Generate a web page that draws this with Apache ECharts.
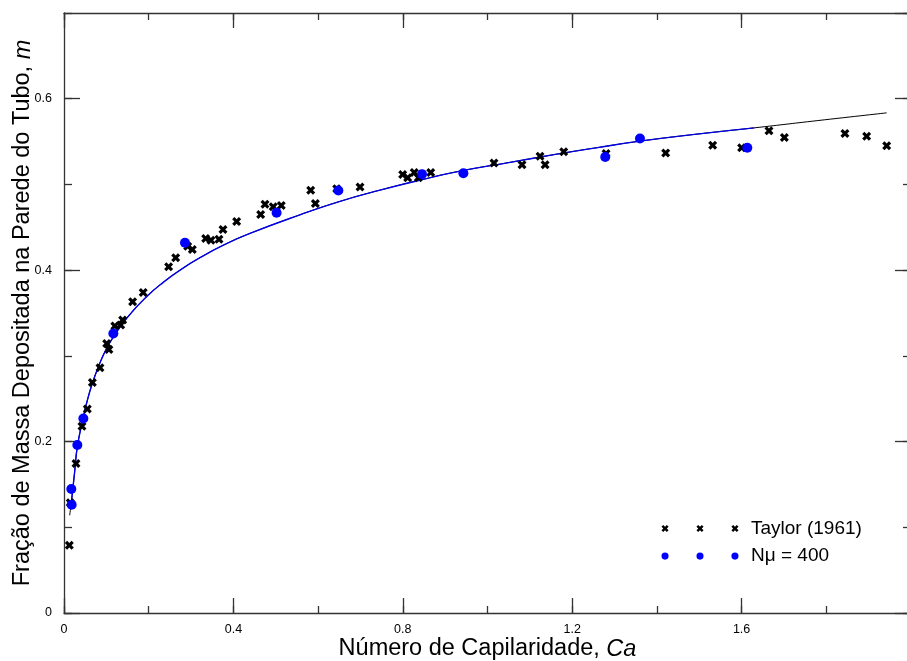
<!DOCTYPE html>
<html>
<head>
<meta charset="utf-8">
<script src="https://cdn.jsdelivr.net/npm/echarts@6/dist/echarts.min.js"></script>
<style>
html,body{margin:0;padding:0;background:#fff;}
#chart{width:907px;height:661px;}
</style>
</head>
<body>
<div id="chart"></div>
<script>
// Taylor (1961) experimental points
const taylorCa = [0.0126,0.0149,0.0283,0.0425,0.055,0.067,0.085,0.1008,0.106,0.120,0.1338,0.1385,0.162,0.187,0.247,0.2637,0.292,0.303,0.3345,0.347,0.366,0.3754,0.4077,0.4644,0.4746,0.494,0.513,0.5825,0.5935,0.644,0.699,0.7997,0.8115,0.827,0.8367,0.866,1.0153,1.0815,1.124,1.136,1.18,1.28,1.4207,1.5317,1.600,1.6647,1.701,1.844,1.8953,1.9426];
const taylorM  = [0.079,0.1286,0.1745,0.218,0.238,0.269,0.286,0.3145,0.3075,0.3347,0.336,0.3417,0.363,0.374,0.404,0.4144,0.428,0.424,0.437,0.435,0.436,0.4474,0.4567,0.465,0.477,0.474,0.4755,0.4933,0.4778,0.495,0.497,0.5116,0.5077,0.514,0.5077,0.514,0.525,0.523,0.533,0.523,0.538,0.536,0.5368,0.5458,0.5427,0.5625,0.5547,0.5594,0.5563,0.545];
// Simulation points, N_mu = 400
const nmuCa = [0.0173,0.0181,0.0315,0.0457,0.1165,0.2857,0.502,0.6478,0.8453,0.943,1.278,1.36,1.6135];
const nmuM  = [0.1446,0.1263,0.196,0.227,0.326,0.432,0.467,0.493,0.512,0.513,0.532,0.5536,0.5427];
// Fitted curve
const lineCa = [0.0134,0.018,0.025,0.0315,0.045,0.0535,0.067,0.085,0.1,0.1165,0.15,0.195,0.235,0.274,0.321,0.38,0.439,0.557,0.65,0.746,0.84,0.935,1.05,1.16,1.26,1.36,1.5,1.63,1.78,1.9426];
const lineM  = [0.114,0.132,0.164,0.194,0.227,0.245,0.268,0.292,0.308,0.322,0.345,0.369,0.386,0.400,0.4145,0.430,0.4428,0.4645,0.480,0.4933,0.505,0.5155,0.5255,0.535,0.543,0.5505,0.559,0.566,0.5745,0.5835];
const blueLineRange = [0.018, 1.63];

const xMajor = 0.4, xMinor = 0.2, yMajor = 0.2, yMinor = 0.1;

const FONT = "'Liberation Sans', Arial, Helvetica, sans-serif";
const AX = '#333';

function xAt(o, d){
  const p = [[0,d],[d,0],[3.5,3.5-d],[7-d,0],[7,d],[3.5+d,3.5],[7,7-d],[7-d,7],[3.5,3.5+d],[d,7],[0,7-d],[3.5-d,3.5]];
  return p.map((q,i)=>(i?'L':'M')+(q[0]+o)+','+q[1]).join('')+'Z';
}
function dotAt(o){return 'M'+o+',3.5A3.5,3.5 0 1 1 '+(o+7)+',3.5A3.5,3.5 0 1 1 '+o+',3.5Z';}
const xPath = 'path://' + xAt(0, 1.75);
const legendX = 'path://' + xAt(0, 1.7) + xAt(34.5, 1.7) + xAt(69, 1.7);
const legendDot = 'path://' + dotAt(0) + dotAt(34.5) + dotAt(69);

function fmt(v){ return v === 0 ? '0' : String(+v.toFixed(1)); }

function xAx(pos, interval, len, labels, line){
  return {
    type:'value', position:pos, min:0, max:2, interval:interval,
    axisLine:{show:line, onZero:false, lineStyle:{color:AX, width:1.3}},
    axisTick:{show:true, inside:true, length:len, lineStyle:{color:AX, width:1.3}},
    axisLabel:{show:labels, margin:10, fontSize:12.5, color:'#000', fontFamily:FONT, formatter:fmt, showMaxLabel:false},
    splitLine:{show:false}
  };
}
function yAx(pos, interval, len, labels, line){
  return {
    type:'value', position:pos, min:0, max:0.7, interval:interval,
    axisLine:{show:line, onZero:false, lineStyle:{color:AX, width:1.3}},
    axisTick:{show:true, inside:true, length:len, lineStyle:{color:AX, width:1.3}},
    axisLabel:{show:labels, margin:12, fontSize:12.5, color:'#000', fontFamily:FONT, formatter:fmt, showMaxLabel:false},
    splitLine:{show:false}
  };
}

const xMain = xAx('bottom', xMajor, 15, true, true);
xMain.name = 'Número de Capilaridade, {i|Ca}';
xMain.nameLocation = 'middle';
xMain.nameGap = 24;
xMain.nameMoveOverlap = false;
xMain.nameTextStyle = {fontSize:23.5, color:'#000', fontFamily:FONT, rich:{i:{fontSize:23.5, fontStyle:'italic', color:'#000', fontFamily:FONT}}};

const yMain = yAx('left', yMajor, 16, true, true);
yMain.name = 'Fração de Massa Depositada na Parede do Tubo, {i|m}';
yMain.nameLocation = 'middle';
yMain.nameGap = 29;
yMain.nameMoveOverlap = false;
yMain.nameTextStyle = {fontSize:23.5, color:'#000', fontFamily:FONT, rich:{i:{fontSize:23.5, fontStyle:'italic', color:'#000', fontFamily:FONT}}};

const lineData = lineCa.map((c,i)=>[c, lineM[i]]);
const blueData = lineData.filter(p => p[0] >= blueLineRange[0] && p[0] <= blueLineRange[1]);

const option = {
  animation:false,
  backgroundColor:'#fff',
  grid:{left:64, top:13, width:847, height:600, containLabel:false, outerBoundsMode:'none'},
  xAxis:[
    xMain,
    xAx('bottom', xMinor, 7, false, false),
    xAx('top', xMajor, 15, false, true),
    xAx('top', xMinor, 7, false, false)
  ],
  yAxis:[
    yMain,
    yAx('left', yMinor, 8, false, false),
    yAx('right', yMajor, 16, false, true),
    yAx('right', yMinor, 8, false, false)
  ],
  legend:{
    orient:'vertical', left:656.5, top:514, itemGap:8.6,
    itemWidth:77, itemHeight:8,
    textStyle:{fontSize:19, lineHeight:19, color:'#000', fontFamily:FONT, padding:[0,0,0,7.5]},
    data:[{name:'Taylor (1961)', icon:legendX},{name:'Nμ = 400', icon:legendDot}]
  },
  series:[
    {type:'line', data:lineData, smooth:0.5, showSymbol:false, symbol:'none',
     lineStyle:{color:'#000', width:1}, xAxisIndex:0, yAxisIndex:0, z:2, silent:true},
    {type:'line', data:blueData, smooth:0.5, showSymbol:false, symbol:'none',
     lineStyle:{color:'#0000e6', width:1.4}, xAxisIndex:0, yAxisIndex:0, z:3, silent:true},
    {type:'scatter', name:'Taylor (1961)', data:taylorCa.map((c,i)=>[c, taylorM[i]]),
     symbol:xPath, symbolSize:9, itemStyle:{color:'#000', opacity:1}, xAxisIndex:0, yAxisIndex:0, z:4},
    {type:'scatter', name:'Nμ = 400', data:nmuCa.map((c,i)=>[c, nmuM[i]]),
     symbol:'circle', symbolSize:10, itemStyle:{color:'#0000ff', opacity:1}, xAxisIndex:0, yAxisIndex:0, z:5}
  ]
};

const chart = echarts.init(document.getElementById('chart'), null, {renderer:'canvas'});
chart.setOption(option);
</script>
</body>
</html>
